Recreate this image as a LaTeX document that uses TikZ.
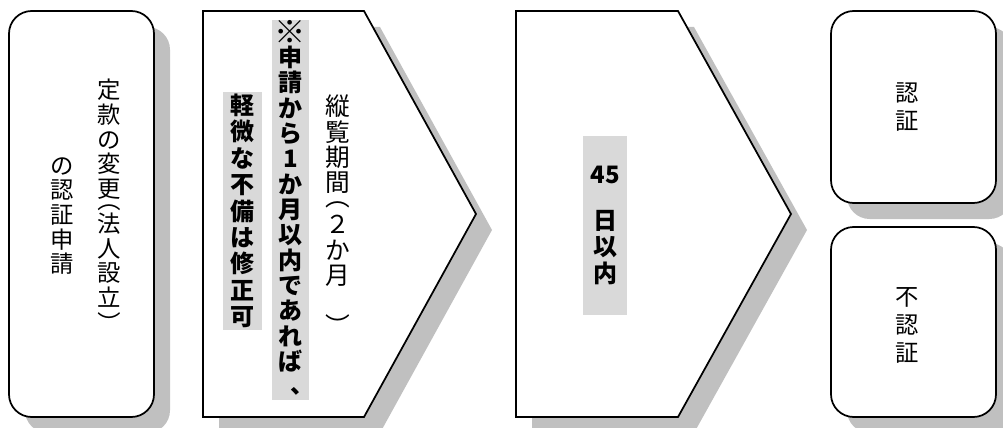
\documentclass[tikz,border=0pt]{standalone}
\usepackage{graphicx}
\usepackage{fontspec}
\newfontfamily\jp{Noto Sans CJK JP}
\definecolor{shd}{RGB}{192,192,192}
\definecolor{hl}{RGB}{217,217,217}
% vertical-text helpers: opening / closing parenthesis, comma, big reference mark
\newcommand\vlp{\raisebox{0.75em}[0.3em][0pt]{\rotatebox{-90}{（}}}
\newcommand\vrp{\raisebox{0.25em}[0.3em][0pt]{\rotatebox{-90}{）}}}
\newcommand\vcomma{\raisebox{0.25em}[0.5em][0pt]{\hspace*{0.5em}、\hspace*{-0.5em}}}
\newcommand\bigref{\raisebox{-0.1em}[0.88em][0.12em]{\scalebox{1.3}{※}}}
\tikzset{
  shadowfill/.style={fill=shd, draw=none},
  boxline/.style={draw=black, line width=1.3pt, fill=white, line join=miter},
  roundbox/.style={boxline, rounded corners=17pt},
  vtxt/.style={align=center, inner sep=0pt, font=\jp\fontsize{17.5}{18.5}\selectfont},
  vtxtB/.style={align=center, inner sep=0pt, font=\jp\fontsize{18.5}{19}\selectfont},
  vbold/.style={align=center, inner sep=0pt, fill=hl, font=\jp\bfseries\fontsize{18}{19}\selectfont},
  vres/.style={align=center, inner sep=0pt, font=\jp\fontsize{17.5}{21}\selectfont},
}
\begin{document}
\begin{tikzpicture}[x=0.75pt,y=-0.75pt]
\useasboundingbox (0,0) rectangle (1003,428);
% shadows
\fill[shadowfill, rounded corners=17pt] (25,27) rectangle (170,433);
\fill[shadowfill] (219,27) -- (380,27) -- (492,230) -- (380,433) -- (219,433) -- cycle;
\fill[shadowfill] (532,27) -- (694,27) -- (807,230) -- (694,433) -- (532,433) -- cycle;
\fill[shadowfill, rounded corners=17pt] (847,27) rectangle (1012,219);
\fill[shadowfill, rounded corners=17pt] (847,243) rectangle (1012,433);
% boxes
\draw[roundbox] (9,11) rectangle (154,417);
\draw[boxline] (203,11) -- (364,11) -- (476,214) -- (364,417) -- (203,417) -- cycle;
\draw[boxline] (516,11) -- (678,11) -- (791,214) -- (678,417) -- (516,417) -- cycle;
\draw[roundbox] (831,11) rectangle (996,203);
\draw[roundbox] (831,227) rectangle (996,417);
% texts box 1
\node[vtxt, anchor=north] (apply1) at (109,79) {定\\款\\の\\変\\更\\[-12.5pt]\vlp\\[1.7pt]法\\人\\設\\立\\[-10pt]\vrp};
\node[vtxt, anchor=north] (apply2) at (62,157) {の\\認\\証\\申\\請};
% box 2
\node[vbold, minimum width=29pt, minimum height=178.5pt, font=\jp\bfseries\fontsize{18}{19.8}\selectfont] (minor) at (242.5,211) {軽\\微\\な\\不\\備\\は\\修\\正\\可};
\node[vbold, minimum width=28pt, minimum height=285pt] (note) at (290.5,210) {\bigref\\申\\請\\か\\ら\\1\\か\\月\\以\\内\\で\\あ\\れ\\ば\\[3pt]\vcomma};
\node[vtxtB, anchor=north] (period) at (338,95) {縦\\覧\\期\\間\\[-10.75pt]\vlp\\[4.25pt]２\\か\\月\\[7pt]\vrp};
% box 3
\node[vbold, minimum width=33pt, minimum height=134pt, font=\jp\bfseries\fontsize{18}{20}\selectfont] (days) at (605,225.5) {45\\[14pt]日\\以\\内};
% results
\node[vres, anchor=north] (ok) at (907,82) {認\\証};
\node[vres, anchor=north] (ng) at (907,287) {不\\認\\証};
\end{tikzpicture}
\end{document}
